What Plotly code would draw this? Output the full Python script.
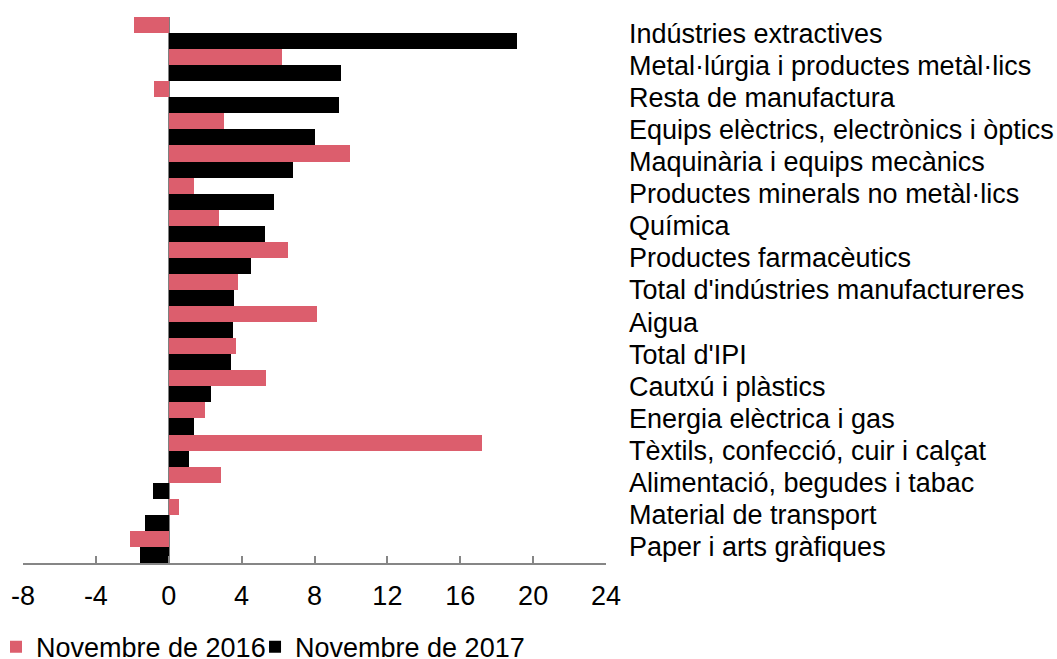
import plotly.graph_objects as go

categories = [
    "Indústries extractives",
    "Metal·lúrgia i productes metàl·lics",
    "Resta de manufactura",
    "Equips elèctrics, electrònics i òptics",
    "Maquinària i equips mecànics",
    "Productes minerals no metàl·lics",
    "Química",
    "Productes farmacèutics",
    "Total d'indústries manufactureres",
    "Aigua",
    "Total d'IPI",
    "Cautxú i plàstics",
    "Energia elèctrica i gas",
    "Tèxtils, confecció, cuir i calçat",
    "Alimentació, begudes i tabac",
    "Material de transport",
    "Paper i arts gràfiques",
]
nov_2016 = [-1.89, 6.24, -0.79, 3.04, 9.97, 1.37, 2.76, 6.55, 3.80, 8.14,
            3.68, 5.34, 2.01, 17.2, 2.87, 0.57, -2.10]
nov_2017 = [19.1, 9.46, 9.35, 8.0, 6.84, 5.78, 5.29, 4.54, 3.58, 3.53,
            3.40, 2.31, 1.37, 1.13, -0.86, -1.28, -1.59]
x_ticks = [-8, -4, 0, 4, 8, 12, 16, 20, 24]
series_names = ["Novembre de 2016", "Novembre de 2017"]

PINK = "#DC5E6D"
BLACK = "#000000"
FONT = "Liberation Sans, Arial, sans-serif"
FS = 27

fig = go.Figure()
fig.add_trace(go.Bar(y=categories, x=nov_2016, orientation="h", name=series_names[0],
                     marker=dict(color=PINK, line=dict(width=0)), legend="legend"))
fig.add_trace(go.Bar(y=categories, x=nov_2017, orientation="h", name=series_names[1],
                     marker=dict(color=BLACK, line=dict(width=0)), legend="legend2"))

legend_common = dict(orientation="h", xanchor="left", y=-0.154, yanchor="middle",
                     font=dict(size=FS), bgcolor="rgba(0,0,0,0)", borderwidth=0,
                     itemwidth=30, tracegroupgap=0)

fig.update_layout(
    width=1057, height=659,
    margin=dict(l=23, r=451, t=17, b=96, autoexpand=False),
    paper_bgcolor="white", plot_bgcolor="white",
    barmode="group", bargap=0, bargroupgap=0,
    font=dict(family=FONT, size=FS, color="black"),
    showlegend=True,
    legend=dict(x=-0.0463, **legend_common),
    legend2=dict(x=0.398, **legend_common),
    xaxis=dict(range=[-8, 24], tickmode="array", tickvals=x_ticks,
               ticktext=[str(v) for v in x_ticks],
               showgrid=False, zeroline=True, zerolinecolor="#7F7F7F", zerolinewidth=1.5,
               showline=True, linecolor="#868686", linewidth=1.5,
               ticks="inside", ticklen=7, tickwidth=1.5, tickcolor="#868686",
               tickfont=dict(size=FS), ticklabelstandoff=8, automargin=False,
               fixedrange=True),
    yaxis=dict(autorange="reversed", side="right", showgrid=False, zeroline=False,
               showline=False, ticks="", tickmode="array", tickvals=categories,
               ticktext=categories, tickfont=dict(size=FS),
               ticklabelstandoff=22, automargin=False, fixedrange=True),
)

fig.write_html("out.html", config={"displayModeBar": False},
               post_script="document.body.style.margin='0';document.body.style.overflow='hidden';")
